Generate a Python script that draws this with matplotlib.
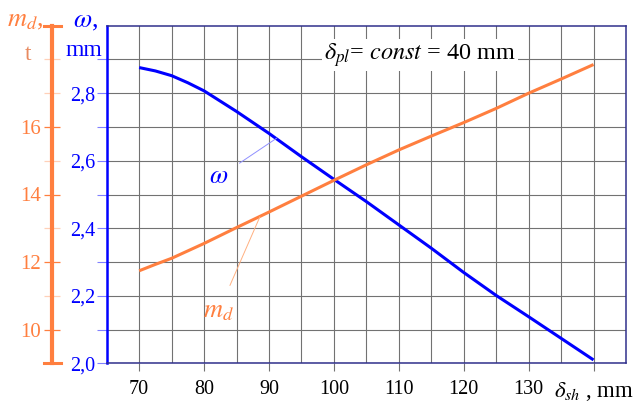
import matplotlib
matplotlib.use('Agg')
import matplotlib.pyplot as plt
from matplotlib.lines import Line2D
from matplotlib.ticker import FixedLocator

plt.rcParams['font.family'] = ['Liberation Serif', 'DejaVu Serif']
plt.rcParams['mathtext.fontset'] = 'stix'

# ---- data ----
delta_sh = [70, 72.5, 75, 77.5, 80, 85, 90, 95, 100, 105, 110, 115, 120, 125, 130, 135, 140]
omega = [2.876, 2.866, 2.852, 2.831, 2.807, 2.746, 2.681, 2.612, 2.545, 2.479, 2.410,
         2.341, 2.269, 2.201, 2.138, 2.074, 2.010]
m_d = [11.74, 11.93, 12.11, 12.33, 12.55, 13.02, 13.48, 13.95, 14.42, 14.88, 15.32,
       15.73, 16.13, 16.55, 17.00, 17.42, 17.85]

x_major = [70, 80, 90, 100, 110, 120, 130, 140]
x_labels = ['70', '80', '90', '100', '110', '120', '130', r'$\delta_{sh}$ , mm']
x_minor = [75, 85, 95, 105, 115, 125, 135]
w_major = [2.0, 2.2, 2.4, 2.6, 2.8]
w_labels = ['2,0', '2,2', '2,4', '2,6', '2,8']
w_minor = [2.1, 2.3, 2.5, 2.7, 2.9]
m_major = [10, 12, 14, 16]
m_labels = ['10', '12', '14', '16']
m_minor = [11, 13, 15, 17, 18]

BLUE = '#0000FF'
ORANGE = '#FF7F3F'
NAVY = '#30308C'
GRID = '#727272'
FS = 14.5

W, H = 640, 403
fig = plt.figure(figsize=(W / 100, H / 100), dpi=100)
L, R, T, B = 106.7, 626, 25.7, 363.3
ax = fig.add_axes([L / W, 1 - B / H, (R - L) / W, (B - T) / H])

ax.set_xlim(65, 145)
ax.set_ylim(2.0, 3.0)
ax.xaxis.set_major_locator(FixedLocator(x_major))
ax.set_xticklabels(x_labels)
ax.xaxis.set_minor_locator(FixedLocator(x_minor))
ax.yaxis.set_major_locator(FixedLocator(w_major))
ax.set_yticklabels(w_labels)
ax.yaxis.set_minor_locator(FixedLocator(w_minor))
ax.grid(which='both', color=GRID, lw=0.8)
ax.set_axisbelow(True)

ax.tick_params(axis='x', which='major', length=6, width=0.8, color=GRID,
               labelsize=FS, pad=6, labelcolor='black')
ax.tick_params(axis='x', which='minor', length=0)
ax.tick_params(axis='y', which='both', length=7, width=0.8, color='#8080FF',
               labelsize=FS, labelcolor=BLUE, pad=1)
ax.get_xticklabels()[-1].set_fontsize(16.5)

for s in ['top', 'right', 'bottom']:
    ax.spines[s].set_color(NAVY)
    ax.spines[s].set_linewidth(1.1)
ax.spines['left'].set_color(BLUE)
ax.spines['left'].set_linewidth(1.8)

ax.plot(delta_sh, omega, color=BLUE, lw=2.2, zorder=3, solid_capstyle='butt')

ax.text(113.3, 2.913, r'$\delta_{pl}$= $\mathit{const}$ = 40 mm', fontsize=17.5,
        ha='center', va='center', color='black',
        bbox=dict(facecolor='white', edgecolor='none', pad=1.5), zorder=4)

ax.annotate(r'$\omega$', xy=(91.2, 2.667), xytext=(82.3, 2.552),
            fontsize=19, color=BLUE, ha='center', va='center',
            arrowprops=dict(arrowstyle='-', color='#9090FF', lw=0.7,
                            shrinkA=7, shrinkB=0))

# ---- m_d axis ----
ax2 = ax.twinx()
ax2.set_ylim(9, 19)
ax2.plot(delta_sh, m_d, color=ORANGE, lw=2.2, zorder=3, solid_capstyle='butt')
ax2.annotate(r'$m_d$', xy=(88.6, 13.34), xytext=(82.2, 10.52),
             fontsize=19, color=ORANGE, ha='center', va='center',
             arrowprops=dict(arrowstyle='-', color='#FFB080', lw=0.7,
                             shrinkA=10, shrinkB=0))
ax2.spines['right'].set_visible(False)
ax2.spines['top'].set_visible(False)
ax2.spines['bottom'].set_visible(False)
ax2.spines['left'].set_visible(True)
ax2.spines['left'].set_position(('axes', (52 - L) / (R - L)))
ax2.spines['left'].set_color(ORANGE)
ax2.spines['left'].set_linewidth(3)
ax2.yaxis.set_ticks_position('left')
ax2.yaxis.set_major_locator(FixedLocator(m_major))
ax2.set_yticklabels(m_labels)
ax2.yaxis.set_minor_locator(FixedLocator(m_minor))
ax2.tick_params(axis='y', which='major', direction='inout', length=12, width=0.9,
                color=ORANGE, labelsize=FS + 0.5, labelcolor=ORANGE, pad=2)
ax2.tick_params(axis='y', which='minor', direction='inout', length=12, width=0.9,
                color='#FFD0B8')

# end caps of the m_d axis
for yy in (T, B):
    fig.add_artist(Line2D([44 / W, 61 / W], [1 - yy / H] * 2,
                          transform=fig.transFigure, color=ORANGE, lw=2.2))

# axis titles
fig.text(85 / W, 1 - 22 / H, r'$\omega$,', color=BLUE, fontsize=19,
         ha='center', va='center')
fig.text(84 / W, 1 - 50 / H, 'mm', color=BLUE, fontsize=17,
         ha='center', va='center')
fig.text(25 / W, 1 - 21 / H, r'$m_d$,', color=ORANGE, fontsize=19,
         ha='center', va='center')
fig.text(28 / W, 1 - 54 / H, 't', color='#E88A60', fontsize=17,
         ha='center', va='center')

fig.savefig('out.png', dpi=100)
